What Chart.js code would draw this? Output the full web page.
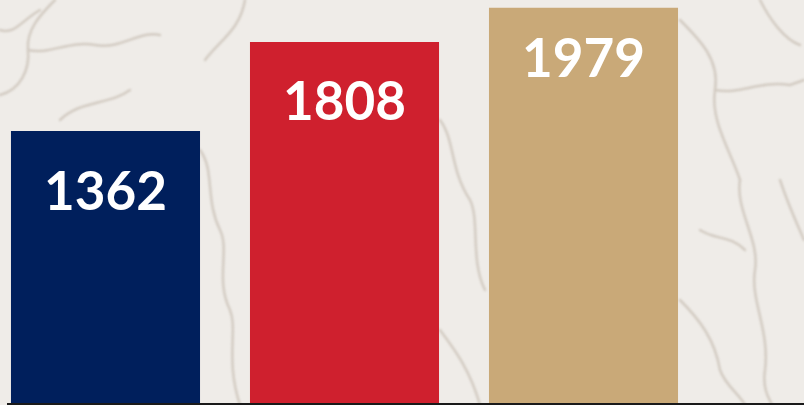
<!DOCTYPE html>
<html>
<head>
<meta charset="utf-8">
<script src="https://cdn.jsdelivr.net/npm/chart.js@4/dist/chart.umd.min.js"></script>
<style>
  html, body { margin: 0; padding: 0; width: 804px; height: 405px; overflow: hidden; }
  body { position: relative; background-color: #efece8; }
  #bg { position: absolute; left: 0; top: 0; }
  #c { position: absolute; left: -14px; top: 0; }
</style>
</head>
<body>
<svg id="bg" width="804" height="405" xmlns="http://www.w3.org/2000/svg">
  <defs><filter id="b"><feGaussianBlur stdDeviation="1.3"/></filter></defs>
  <g fill="none" stroke="#c9c0b5" stroke-width="2.5" stroke-linecap="round" stroke-linejoin="round" filter="url(#b)" opacity="0.75">
    <path d="M0,95 C20,90 30,70 28,50 C26,30 40,15 55,0"/>
    <path d="M28,50 C50,55 70,40 95,45 C120,50 140,30 160,35"/>
    <path d="M0,30 C15,35 22,20 40,10"/>
    <path d="M60,120 C80,100 110,105 130,90"/>
    <path d="M200,150 C215,170 205,200 220,230 C230,250 215,280 230,310 C238,330 225,360 240,405"/>
    <path d="M205,60 C220,40 240,30 245,0"/>
    <path d="M440,120 C455,140 450,170 470,200 C480,220 470,260 485,290"/>
    <path d="M440,330 C455,350 470,370 480,405"/>
    <path d="M680,20 C700,40 720,60 715,90 C710,120 730,150 740,180"/>
    <path d="M715,90 C740,95 760,80 790,85 L804,80"/>
    <path d="M740,180 C735,210 760,240 755,270 C750,300 770,330 765,370 C762,390 770,400 772,405"/>
    <path d="M680,300 C700,320 715,340 720,370 C725,385 740,395 745,405"/>
    <path d="M760,0 C770,20 785,40 800,45"/>
    <path d="M780,180 C790,210 800,230 804,240"/>
    <path d="M700,230 C715,240 730,235 745,250"/>
  </g>
</svg>
<canvas id="c" width="818" height="405"></canvas>
<script>
// ---- data ----
const categories = ["A", "B", "C"];
const values = [1362, 1808, 1979];
const valueLabels = ["1362", "1808", "1979"];

// ---- styles ----
const barColors = ["#001f5c", "#cf202e", "#c9a978"];
const labelBaselineOffsets = [79, 78, 69];

const labelPlugin = {
  id: "valueLabels",
  afterDatasetsDraw(chart) {
    const ctx = chart.ctx;
    const meta = chart.getDatasetMeta(0);
    ctx.save();
    ctx.fillStyle = "#ffffff";
    ctx.font = "bold 53px Lato";
    ctx.textAlign = "center";
    ctx.textBaseline = "alphabetic";
    meta.data.forEach((bar, i) => {
      ctx.fillText(valueLabels[i], bar.x, bar.y + labelBaselineOffsets[i]);
    });
    ctx.restore();
  }
};

const baselinePlugin = {
  id: "baseline",
  afterDatasetsDraw(chart) {
    const ctx = chart.ctx;
    const y = chart.scales.y.getPixelForValue(0);
    ctx.save();
    ctx.fillStyle = "#1a1a1a";
    ctx.fillRect(21, y, chart.width - 21, 2);
    ctx.restore();
  }
};

new Chart(document.getElementById("c"), {
  type: "bar",
  data: {
    labels: categories,
    datasets: [{
      data: values,
      backgroundColor: barColors,
      borderWidth: 0,
      categoryPercentage: 1,
      barPercentage: 0.791
    }]
  },
  options: {
    responsive: false,
    animation: false,
    layout: { padding: { left: 0, right: 101, top: 0, bottom: 2 } },
    plugins: { legend: { display: false }, tooltip: { enabled: false } },
    scales: {
      x: { display: false },
      y: { display: false, min: 0, max: 2018 }
    }
  },
  plugins: [labelPlugin, baselinePlugin]
});
</script>
</body>
</html>
